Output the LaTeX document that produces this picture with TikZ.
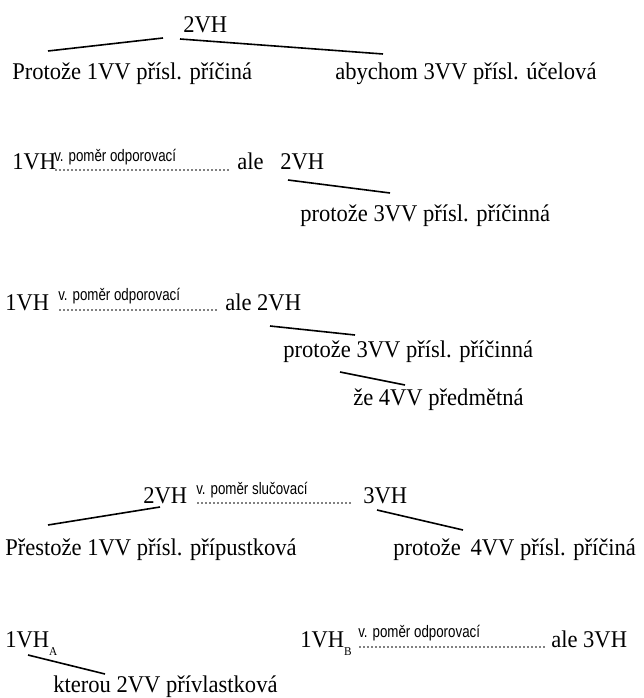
\documentclass[tikz,border=0pt]{standalone}
\usepackage{fontspec}
\setmainfont{Liberation Serif}[FakeStretch=0.94]
\newfontfamily\labfont[FakeStretch=0.8]{Liberation Sans}
\begin{document}
\begin{tikzpicture}[x=0.75pt,y=-0.75pt,
  txt/.style={font=\fontsize{18}{21}\selectfont, inner sep=0pt, anchor=base west},
  lab/.style={font=\labfont\fontsize{12.5}{14}\selectfont, inner sep=0pt, anchor=base west},
  branch/.style={line width=1.2pt},
  dotline/.style={line width=1.2pt, line cap=round, dash pattern=on 0pt off 3pt}]
\useasboundingbox (0,0) rectangle (643,698);
\newcommand{\subA}[1]{\raisebox{-6pt}{\fontsize{9}{9}\selectfont #1}}

% ---- block 1
\node[txt] (b1h) at (183,33) {2VH};
\node[txt] (b1l) at (12,80) {Protože 1VV přísl. příčiná};
\node[txt] (b1r) at (335,80) {abychom 3VV přísl. účelová};
\coordinate (b1la) at (163,38); \coordinate (b1lb) at (48,51);
\coordinate (b1ra) at (180,39); \coordinate (b1rb) at (383,54);
\draw[branch] (b1la) -- (b1lb);
\draw[branch] (b1ra) -- (b1rb);

% ---- block 2
\node[txt] (b2a) at (12,170) {1VH};
\node[lab] (b2lab) at (54,162) {v. poměr odporovací};
\node[txt] (b2ale) at (237,170) {ale};
\node[txt] (b2b) at (280,170) {2VH};
\node[txt] (b2c) at (300,222) {protože 3VV přísl. příčinná};
\coordinate (b2da) at (56,170); \coordinate (b2db) at (231,170);
\draw[dotline] (b2da) -- (b2db);
\coordinate (b2la) at (288,180); \coordinate (b2lb) at (390,193);
\draw[branch] (b2la) -- (b2lb);

% ---- block 3
\node[txt] (b3a) at (5,310) {1VH};
\node[lab] (b3lab) at (58,300) {v. poměr odporovací};
\node[txt] (b3ale) at (225,310) {ale 2VH};
\node[txt] (b3c) at (283,357) {protože 3VV přísl. příčinná};
\node[txt] (b3d) at (353,405) {že 4VV předmětná};
\coordinate (b3da) at (60,310); \coordinate (b3db) at (219,310);
\draw[dotline] (b3da) -- (b3db);
\coordinate (b3la) at (270,326); \coordinate (b3lb) at (355,335);
\draw[branch] (b3la) -- (b3lb);
\coordinate (b3ma) at (340,372); \coordinate (b3mb) at (405,385);
\draw[branch] (b3ma) -- (b3mb);

% ---- block 4
\node[txt] (b4a) at (143,503) {2VH};
\node[lab] (b4lab) at (196,494) {v. poměr slučovací};
\node[txt] (b4b) at (363,503) {3VH};
\node[txt] (b4l) at (5,555) {Přestože 1VV přísl. přípustková};
\node[txt] (b4r) at (393,555) {protože\, 4VV přísl. příčiná};
\coordinate (b4da) at (198,503); \coordinate (b4db) at (350,503);
\draw[dotline] (b4da) -- (b4db);
\coordinate (b4la) at (160,507); \coordinate (b4lb) at (48,525);
\coordinate (b4ra) at (377,510); \coordinate (b4rb) at (463,530);
\draw[branch] (b4la) -- (b4lb);
\draw[branch] (b4ra) -- (b4rb);

% ---- block 5
\node[txt] (b5a) at (5,647) {1VH\subA{A}};
\node[txt] (b5k) at (53,692) {kterou 2VV přívlastková};
\node[txt] (b5b) at (300,647) {1VH\subA{B}};
\node[lab] (b5lab) at (358,637) {v. poměr odporovací};
\node[txt] (b5ale) at (551,647) {ale 3VH};
\coordinate (b5da) at (360,647); \coordinate (b5db) at (545,647);
\draw[dotline] (b5da) -- (b5db);
\coordinate (b5la) at (28,655); \coordinate (b5lb) at (105,674);
\draw[branch] (b5la) -- (b5lb);
\end{tikzpicture}
\end{document}
